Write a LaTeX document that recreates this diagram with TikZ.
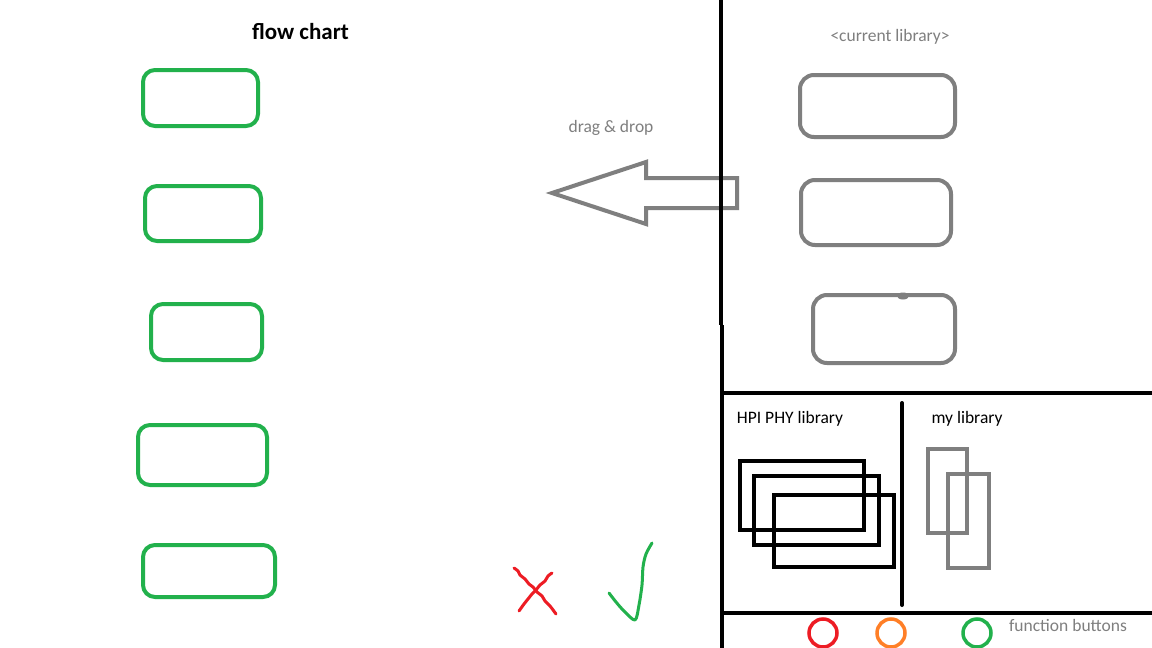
\documentclass[tikz,border=0pt]{standalone}
\usepackage{fontspec}
\setmainfont{Carlito}
\definecolor{pgreen}{HTML}{22B14C}
\definecolor{pred}{HTML}{ED1C24}
\definecolor{porange}{HTML}{FF7F27}
\definecolor{pgray}{HTML}{7F7F7F}
\tikzset{
  gbox/.style={draw=pgreen, line width=4pt, rounded corners=12pt, inner sep=0pt},
  graybox/.style={draw=pgray, line width=4pt, rounded corners=14pt, inner sep=0pt},
  blackrect/.style={draw=black, line width=4.5pt, inner sep=0pt},
  grayrect/.style={draw=pgray, line width=4pt, inner sep=0pt},
  sepline/.style={draw=black, line width=4pt},
  btn/.style={circle, line width=3.5pt, minimum size=28pt, inner sep=0pt},
  graytext/.style={text=pgray, font=\fontsize{17.5}{20}\selectfont, inner sep=0pt},
  blacktext/.style={text=black, font=\fontsize{17.5}{20}\selectfont, inner sep=0pt},
}
\begin{document}
\begin{tikzpicture}[x=1pt,y=-1pt]
\useasboundingbox[fill=white] (0,0) rectangle (1152,648);

% title
\node[font=\fontsize{23}{26}\selectfont\bfseries, inner sep=0pt] (title) at (300.5,32) {flow chart};

% flow chart boxes
\node[gbox, minimum width=115pt, minimum height=56pt] (g1) at (200.5,98) {};
\node[gbox, minimum width=116pt, minimum height=55pt] (g2) at (203,213.5) {};
\node[gbox, minimum width=111pt, minimum height=56pt] (g3) at (206.5,332) {};
\node[gbox, minimum width=129pt, minimum height=60pt] (g4) at (202.5,455) {};
\node[gbox, minimum width=132pt, minimum height=52pt] (g5) at (209,571) {};

% drag & drop arrow
\node[graytext] (dd) at (611,128) {drag \& drop};
\draw[draw=pgray, line width=4pt, line join=miter]
  (552,193) -- (646,162) -- (646,178) -- (737,178) -- (737,208) -- (646,208) -- (646,224) -- cycle;

% current library
\node[graytext] (cur) at (890,37) {<current library>};
\node[graybox, minimum width=155pt, minimum height=62pt] (c1) at (877.5,106) {};
\node[graybox, minimum width=150pt, minimum height=65pt] (c2) at (876,212.5) {};
\node[graybox, minimum width=142pt, minimum height=68pt] (c3) at (884,329) {};
\fill[pgray] (903,296) ellipse[x radius=6, y radius=3.5];

% separator lines
\coordinate (vt) at (721,0);
\coordinate (vm) at (721,325);
\coordinate (vm2) at (722,325);
\coordinate (vb) at (722,648);
\draw[sepline] (vt) -- (vm);
\draw[sepline] (vm2) -- (vb);
\coordinate (h1a) at (721,393);
\coordinate (h1b) at (1152,393);
\draw[sepline] (h1a) -- (h1b);
\coordinate (h2a) at (723,613);
\coordinate (h2b) at (1152,613);
\draw[sepline] (h2a) -- (h2b);
\coordinate (vda) at (902,403);
\coordinate (vdb) at (902,605);
\draw[sepline, line cap=round] (vda) -- (vdb);

% HPI PHY library
\node[blacktext] (hpi) at (790,419) {HPI PHY library};
\node[blackrect, minimum width=124pt, minimum height=69pt] (h1) at (802,495.5) {};
\node[blackrect, minimum width=125pt, minimum height=69pt] (h2) at (816.5,510.5) {};
\node[blackrect, minimum width=120pt, minimum height=72pt] (h3) at (834,531) {};

% my library
\node[blacktext] (my) at (967,419) {my library};
\node[grayrect, minimum width=39pt, minimum height=84pt] (m1) at (947.5,491) {};
\node[grayrect, minimum width=41pt, minimum height=94pt] (m2) at (968.5,521) {};

% function buttons
\node[btn, draw=pred] (b1) at (823,633) {};
\node[btn, draw=porange] (b2) at (891,633) {};
\node[btn, draw=pgreen] (b3) at (977,633) {};
\node[graytext] (fb) at (1068,625) {function buttons};

% cross and check
\draw[pred, line width=3pt, line cap=round, line join=round]
  plot[smooth] coordinates {(514,568) (518,571) (520,575) (525,579) (529,584) (533,587) (537,592) (542,596) (545,601) (550,606) (556,614)};
\draw[pred, line width=3pt, line cap=round, line join=round]
  plot[smooth] coordinates {(552,573) (548,576) (545,581) (540,585) (536,590) (532,594) (528,599) (524,604) (519,611)};
\draw[pgreen, line width=3pt, line cap=round, line join=round]
  plot[smooth] coordinates {(609,593) (616,602) (624,611) (635,620) (639,605) (642,585) (643,567) (646,554) (652,543)};
\end{tikzpicture}
\end{document}
